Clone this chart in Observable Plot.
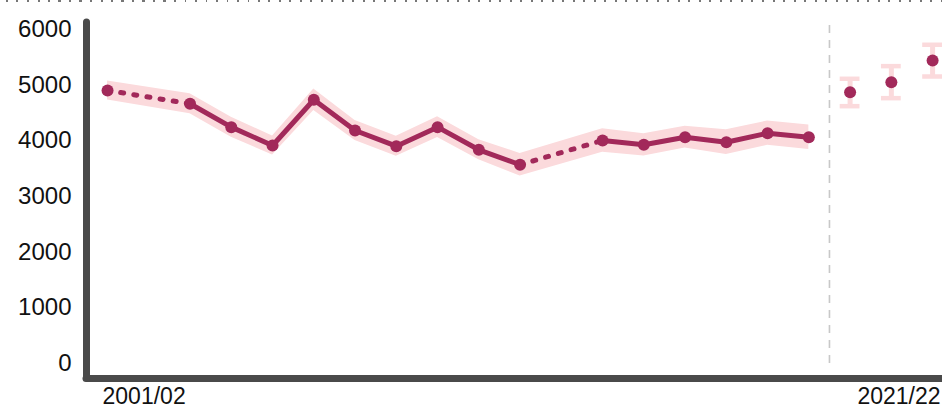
<!DOCTYPE html>
<html><head><meta charset="utf-8">
<script src="https://cdn.jsdelivr.net/npm/d3@7"></script>
<script src="https://cdn.jsdelivr.net/npm/@observablehq/plot@0.6"></script>
<style>
html,body{margin:0;padding:0;background:#fff;}
#wrap{position:relative;width:942px;height:411px;overflow:hidden;}
#dots{position:absolute;left:0;top:0;width:942px;height:2px;background-image:repeating-linear-gradient(to right,transparent 0 6px,#777 6px 8px,transparent 8px 10.5px);}
#wrap svg{display:block;}
</style></head><body><div id="wrap"><div id="dots"></div></div>
<script>
// Observed series (start year of the financial year)
const surveyYears  = [2001, 2003, 2004, 2005, 2006, 2007, 2008, 2009, 2010, 2011, 2013, 2014, 2015, 2016, 2017, 2018];
const surveyValues = [4904, 4665, 4245, 3916, 4737, 4185, 3903, 4245, 3838, 3570, 4006, 3928, 4065, 3975, 4137, 4065];
const surveyLower  = [4735, 4485, 4065, 3746, 4545, 4005, 3723, 4060, 3658, 3366, 3796, 3728, 3870, 3752, 3918, 3845];
const surveyUpper  = [5075, 4845, 4425, 4086, 4930, 4365, 4083, 4430, 4018, 3774, 4216, 4128, 4260, 4198, 4356, 4285];

// Projections
const projYears  = [2019, 2020, 2021];
const projValues = [4873, 5053, 5443];
const projLower  = [4622, 4766, 5155];
const projUpper  = [5114, 5341, 5725];

const yTicks = [0, 1000, 2000, 3000, 4000, 5000, 6000];
const fyLabel = y => `${y}/${String(y + 1).slice(2)}`;

const lineColor = "#a2295a";
const bandColor = "#fbdadc";
const axisColor = "#4a4a4a";

const survey = surveyYears.map((y, i) => ({year: y, value: surveyValues[i], lower: surveyLower[i], upper: surveyUpper[i]}));
const proj = projYears.map((y, i) => ({year: y, value: projValues[i], lower: projLower[i], upper: projUpper[i]}));

let run = 0;
const solid = [], dashed = [];
survey.forEach((d, i) => {
  if (i > 0 && d.year - survey[i - 1].year > 1) {
    run++;
    dashed.push({...survey[i - 1], seg: i}, {...d, seg: i});
  }
  solid.push({...d, run});
});

const xDomain = [2000.49, 2021.24];
const yDomain = [-270, 6125];
const divider = (surveyYears[surveyYears.length - 1] + projYears[0]) / 2;
const capHalf = 0.24;

const chart = Plot.plot({
  width: 942,
  height: 411,
  marginLeft: 86,
  marginRight: 0,
  marginTop: 22,
  marginBottom: 33,
  style: {fontFamily: "'Liberation Sans', Arial, Helvetica, sans-serif", fontSize: "24px", color: "#111", background: "transparent", overflow: "visible"},
  x: {domain: xDomain, axis: null},
  y: {domain: yDomain, ticks: yTicks, tickSize: 0, tickPadding: 15, tickFormat: d => String(d), label: null},
  marks: [
    Plot.areaY(survey, {x: "year", y1: "lower", y2: "upper", fill: bandColor}),
    Plot.ruleX([divider], {y1: 0, y2: yDomain[1], stroke: "#c8c8c8", strokeWidth: 1.6, strokeDasharray: "8,7"}),
    Plot.ruleX(proj, {x: "year", y1: "lower", y2: "upper", stroke: bandColor, strokeWidth: 5}),
    Plot.ruleY(proj, {y: "lower", x1: d => d.year - capHalf, x2: d => d.year + capHalf, stroke: bandColor, strokeWidth: 4.5}),
    Plot.ruleY(proj, {y: "upper", x1: d => d.year - capHalf, x2: d => d.year + capHalf, stroke: bandColor, strokeWidth: 4.5}),
    Plot.line(solid, {x: "year", y: "value", z: "run", stroke: lineColor, strokeWidth: 5, strokeLinejoin: "round", strokeLinecap: "round"}),
    Plot.line(dashed, {x: "year", y: "value", z: "seg", stroke: lineColor, strokeWidth: 5, strokeDasharray: "3,10.3", strokeLinecap: "round"}),
    Plot.dot(survey, {x: "year", y: "value", r: 6, fill: lineColor}),
    Plot.dot(proj, {x: "year", y: "value", r: 6, fill: lineColor}),
    Plot.ruleY([yDomain[0]], {stroke: axisColor, strokeWidth: 7, strokeLinecap: "round"}),
    Plot.ruleX([xDomain[0]], {y1: yDomain[0], y2: yDomain[1], stroke: axisColor, strokeWidth: 7, strokeLinecap: "round"}),
    Plot.text([survey[0]], {x: "year", text: d => fyLabel(d.year), frameAnchor: "bottom", lineAnchor: "top", textAnchor: "start", dx: -5, dy: 9, fontSize: 23, fill: "#111"}),
    Plot.text([proj[proj.length - 1]], {x: "year", text: d => fyLabel(d.year), frameAnchor: "bottom", lineAnchor: "top", textAnchor: "end", dx: 8, dy: 9, fontSize: 23, fill: "#111"})
  ]
});
document.getElementById("wrap").appendChild(chart);
</script>
</body></html>
